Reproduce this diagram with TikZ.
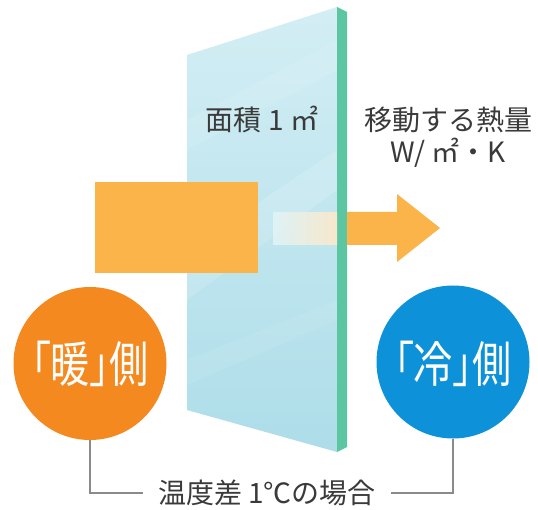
\documentclass[tikz,border=0pt]{standalone}
\usepackage{fontspec}
\setmainfont{Noto Sans CJK JP}
\newfontfamily\cjkp[RawFeature=+palt]{Noto Sans CJK JP}
\definecolor{glassA}{HTML}{D3EEF4}
\definecolor{glassB}{HTML}{ADDDE9}
\definecolor{edgegreen}{HTML}{5CC6A2}
\definecolor{boxorange}{HTML}{FBB44A}
\definecolor{warmorange}{HTML}{F4891F}
\definecolor{coolblue}{HTML}{0D92D9}
\definecolor{txtgray}{HTML}{3A3A3A}
\definecolor{linegray}{HTML}{8A8A8A}
\newcommand{\sidetext}[1]{\scalebox{0.8}[1]{\cjkp\fontsize{49}{52}\selectfont #1}}
\tikzset{
  labeltext/.style={text=txtgray, font=\fontsize{28}{32}\selectfont, inner sep=0pt},
  sidecircle/.style={circle, minimum size=153pt, inner sep=0pt, text=white},
  bracketline/.style={draw=linegray, line width=1.2pt}
}
\begin{document}
\begin{tikzpicture}[x=1pt,y=-1pt]
\useasboundingbox[fill=white] (0,0) rectangle (538,510);
% glass front face
\shade[top color=glassA, bottom color=glassB] (187,55) -- (337,7) -- (337,452) -- (187,410) -- cycle;
\begin{scope}
  \clip (187,55) -- (337,7) -- (337,452) -- (187,410) -- cycle;
  \fill[white, opacity=0.14] (187,250) -- (337,150) -- (337,190) -- (187,300) -- cycle;
  \fill[white, opacity=0.10] (187,120) -- (337,40) -- (337,70) -- (187,150) -- cycle;
  \fill[white, opacity=0.08] (187,360) -- (337,300) -- (337,320) -- (187,385) -- cycle;
\end{scope}
% glass edge
\fill[edgegreen] (337,7) -- (347,12) -- (347,447) -- (337,452) -- cycle;
% heat passing through glass
\shade[left color=glassA!70!white, right color=boxorange!30!white, opacity=0.9] (273,213) rectangle (337,245);
% warm block
\fill[boxorange] (95,182) rectangle (258,273);
% outgoing arrow
\fill[boxorange] (347,212) -- (397,212) -- (397,194) -- (440,228) -- (397,262) -- (397,245) -- (347,245) -- cycle;
% labels
\node[labeltext] (area) at (262,119) {面積 1 ㎡};
\node[labeltext, align=center] (heat) at (448,137) {移動する熱量\\W/ ㎡・K};
% circles
\node[sidecircle, fill=warmorange] (warm) at (90,363.5) {};
\node[text=white, inner sep=0pt] (warmtext) at (90,364) {\sidetext{「暖」側}};
\node[sidecircle, fill=coolblue] (cool) at (453,362) {};
\node[text=white, inner sep=0pt] (cooltext) at (453,364) {\sidetext{「冷」側}};
% condition
\node[labeltext, inner xsep=15pt] (cond) at (267,493) {温度差 1℃の場合};
\draw[bracketline] (warm.south) |- (cond.west);
\draw[bracketline] (cool.south) |- (cond.east);
\end{tikzpicture}
\end{document}
